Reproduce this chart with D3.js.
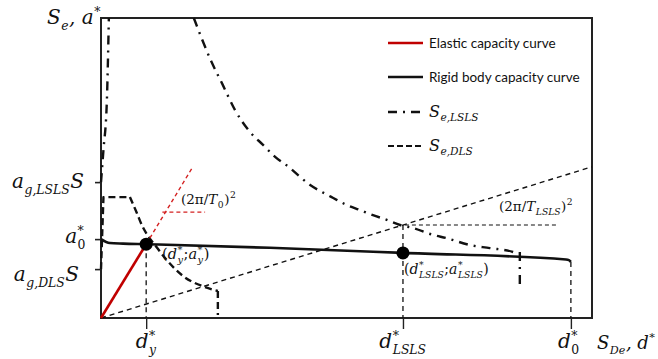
<!DOCTYPE html>
<html>
<head>
<meta charset="utf-8">
<script src="https://cdn.jsdelivr.net/npm/d3@7"></script>
<style>
  body { margin: 0; background: #fff; }
  svg { display: block; }
</style>
</head>
<body>
<div id="chart"></div>
<script>
const width = 658,
  height = 359;

// key displacements / accelerations (arbitrary units, 0..100)
const dTicks = [9.2, 61.5, 95.7];
const aTicks = [45.3, 26.3, 16.3];

// rigid body capacity curve
const rigidD = [0, 1.8, 4.5, 9.0, 34.4, 61.5, 94.7, 95.3, 95.7];
const rigidA = [26.3, 25.0, 24.8, 24.6, 23.4, 21.7, 19.5, 19.3, 18.7];

// elastic capacity curve + its extension
const elasticD = [0, 9.2];
const elasticA = [0, 24.6];
const elasticExtD = [9.2, 18.7];
const elasticExtA = [24.6, 50.4];
const t0MarkD = [12.5, 21.2];
const t0MarkA = [35.3, 35.3];

// S_e,DLS spectrum
const dlsD = [0, 0.5, 5.9, 7.3, 8.4, 9.6, 11.0, 13.4, 16.7, 21.2, 23.8, 23.8];
const dlsA = [16.3, 40.3, 40.3, 35.0, 30.7, 27.3, 24.3, 19.3, 14.0, 10.3, 9.0, 1.0];

// S_e,LSLS spectrum (rising branch + descending branch)
const lslsRiseD = [0, 0.5, 1.2, 1.6];
const lslsRiseA = [45.3, 56.0, 72.7, 100];
const lslsD = [18.9, 22.5, 24.8, 27.3, 30.3, 33.0, 35.4, 38.5, 40.5, 42.6, 44.9, 47.3, 50.0,
  52.7, 55.4, 58.2, 60.9, 63.5, 67.6, 70.4, 75.2, 79.2, 83.9, 84.9];
const lslsA = [100, 85.4, 77.7, 69.3, 62.1, 57.7, 53.8, 50.0, 47.1, 44.3, 42.1, 40.0, 37.7,
  36.0, 34.3, 32.7, 31.0, 30.0, 27.7, 26.6, 24.3, 23.3, 22.0, 21.0];
const lslsEndD = [85.3, 85.3];
const lslsEndA = [22.0, 9.3];

// secant through origin with period T_LSLS
const secantD = [0, 100];
const secantA = [0, 50.4];
const tlMarkD = [61.9, 93.1];
const tlMarkA = [31.0, 31.0];

const legendNames = ["Elastic capacity curve", "Rigid body capacity curve", "S_e,LSLS", "S_e,DLS"];

const x = d3.scaleLinear().domain([0, 100]).range([101, 592]);
const y = d3.scaleLinear().domain([0, 100]).range([318, 18]);

const svg = d3.select("#chart")
  .append("svg")
  .attr("width", width)
  .attr("height", height)
  .attr("viewBox", [0, 0, width, height]);

const zip = (a, b) => a.map((v, i) => [v, b[i]]);

// frame
svg.append("rect")
  .attr("x", x(0)).attr("y", y(100))
  .attr("width", x(100) - x(0)).attr("height", y(0) - y(100))
  .attr("fill", "none").attr("stroke", "#222").attr("stroke-width", 2);

// ticks
svg.append("g")
  .attr("transform", `translate(${x(0)},0)`)
  .call(d3.axisLeft(y).tickValues(aTicks).tickSize(6).tickFormat(""))
  .call(g => g.select(".domain").remove())
  .call(g => g.selectAll("line").attr("stroke", "#222").attr("stroke-width", 1.6));

svg.append("g")
  .attr("transform", `translate(0,${y(0)})`)
  .call(d3.axisBottom(x).tickValues(dTicks).tickSize(11).tickFormat(""))
  .call(g => g.select(".domain").remove())
  .call(g => g.selectAll("line").attr("stroke", "#222").attr("stroke-width", 1.4));

function path(d, stroke, w, dash, curve) {
  const gen = d3.line().x(p => x(p[0])).y(p => y(p[1])).curve(curve || d3.curveLinear);
  svg.append("path")
    .attr("d", gen(d))
    .attr("fill", "none")
    .attr("stroke", stroke)
    .attr("stroke-width", w)
    .attr("stroke-dasharray", dash || null)
    .attr("stroke-linejoin", "round");
}

// thin guides
path(zip(secantD, secantA), "#111", 1.4, "5,4");
path(zip(tlMarkD, tlMarkA), "#111", 1.2, "4,3");
path([[dTicks[0], 24.6], [dTicks[0], 0]], "#111", 1.3, "5,4");
path([[dTicks[1], 31.0], [dTicks[1], 0]], "#111", 1.3, "5,4");
path([[dTicks[2], 18.7], [dTicks[2], 0]], "#111", 1.3, "5,4");

// spectra
path(zip(dlsD.slice(0, 3), dlsA.slice(0, 3)), "#111", 2.4, "7,4");
path(zip(dlsD.slice(2, 11), dlsA.slice(2, 11)), "#111", 2.4, "7,4", d3.curveMonotoneX);
path(zip(dlsD.slice(10), dlsA.slice(10)), "#111", 2.4, "7,4");
path(zip(lslsRiseD, lslsRiseA), "#111", 2.4, "9,6,2,6", d3.curveMonotoneX);
path(zip(lslsD, lslsA), "#111", 2.4, "9,6,2,6", d3.curveMonotoneX);
path(zip(lslsEndD, lslsEndA), "#111", 2.4, "9,6,2,6");

// elastic
path(zip(elasticExtD, elasticExtA), "#d42020", 1.4, "4,3");
path(zip(t0MarkD, t0MarkA), "#d42020", 1.4, "4,3");
path(zip(elasticD, elasticA), "#c00000", 2.6);

// rigid body
path(zip(rigidD, rigidA), "#111", 2.6, null, d3.curveMonotoneX);

svg.append("g")
  .selectAll("circle")
  .data([[dTicks[0], 24.6], [dTicks[1], 21.7]])
  .join("circle")
  .attr("cx", d => x(d[0]))
  .attr("cy", d => y(d[1]))
  .attr("r", 6.5)
  .attr("fill", "#000");

// math-like labels: parts are {b}, {sub}, {sup}, {sub, sup}, {u} (upright)
function mathLabel(x0, y0, parts, fs, anchor, ss) {
  const g = svg.append("g").attr("font-family", "DejaVu Serif").attr("fill", "#111");
  const small = fs * (ss || 0.62);
  let cx = 0;
  parts.forEach(p => {
    if (p.b !== undefined || p.u !== undefined) {
      const n = g.append("text").attr("x", cx).attr("y", 0)
        .attr("font-size", fs)
        .attr("font-style", p.u !== undefined ? "normal" : "italic")
        .text(p.b !== undefined ? p.b : p.u);
      cx += n.node().getComputedTextLength();
    } else {
      let w = 0;
      if (p.sup) {
        const n = g.append("text").attr("x", cx + 0.5).attr("y", -fs * 0.42)
          .attr("font-size", small).attr("font-style", p.sup === "2" ? "normal" : "italic").text(p.sup);
        w = Math.max(w, n.node().getComputedTextLength());
      }
      if (p.sub) {
        const n = g.append("text").attr("x", cx + 0.5).attr("y", fs * 0.28)
          .attr("font-size", small).attr("font-style", p.sub === "0" ? "normal" : "italic").text(p.sub);
        w = Math.max(w, n.node().getComputedTextLength());
      }
      cx += w + 1;
    }
  });
  const dx = anchor === "end" ? -cx : anchor === "middle" ? -cx / 2 : 0;
  g.attr("transform", `translate(${x0 + dx},${y0})`);
}

// axis titles
mathLabel(47, 24, [{b: "S"}, {sub: "e"}, {b: ", a"}, {sup: "*"}], 20, "start");
mathLabel(597, 349, [{b: "S"}, {sub: "De"}, {b: ", d"}, {sup: "*"}], 18, "start");

// y tick labels
mathLabel(84, 188, [{b: "a"}, {sub: "g,LSLS"}, {b: "S"}], 20, "end");
mathLabel(86, 243, [{b: "a"}, {sub: "0", sup: "*"}], 20, "end");
mathLabel(79, 281, [{b: "a"}, {sub: "g,DLS"}, {b: "S"}], 20, "end");

// x tick labels
mathLabel(x(dTicks[0]), 348, [{b: "d"}, {sub: "y", sup: "*"}], 20, "middle");
mathLabel(x(dTicks[1]), 348, [{b: "d"}, {sub: "LSLS", sup: "*"}], 20, "middle");
mathLabel(x(dTicks[2]) - 2, 348, [{b: "d"}, {sub: "0", sup: "*"}], 20, "middle");

// annotations
mathLabel(181, 204, [{u: "(2π/"}, {b: "T"}, {sub: "0"}, {u: ")"}, {sup: "2"}], 13.5, "start", 0.68);
mathLabel(499, 211, [{u: "(2π/"}, {b: "T"}, {sub: "LSLS"}, {u: ")"}, {sup: "2"}], 13.5, "start", 0.68);
mathLabel(162, 259, [{u: "("}, {b: "d"}, {sub: "y", sup: "*"}, {u: "; "}, {b: "a"}, {sub: "y", sup: "*"}, {u: ")"}], 14.5, "start", 0.68);
mathLabel(404, 274, [{u: "("}, {b: "d"}, {sub: "LSLS", sup: "*"}, {u: "; "}, {b: "a"}, {sub: "LSLS", sup: "*"}, {u: ")"}], 14, "start", 0.66);

// legend
const legendY = [43, 77, 112, 146];
const legendStyle = [
  {stroke: "#c00000", w: 2.6, dash: null},
  {stroke: "#111", w: 2.6, dash: null},
  {stroke: "#111", w: 2.6, dash: "9,6,2,6"},
  {stroke: "#111", w: 2.2, dash: "6,3"}
];
const legend = svg.append("g");
legend.selectAll("line")
  .data(legendStyle)
  .join("line")
  .attr("x1", 388).attr("x2", 423)
  .attr("y1", (d, i) => legendY[i]).attr("y2", (d, i) => legendY[i])
  .attr("stroke", d => d.stroke)
  .attr("stroke-width", d => d.w)
  .attr("stroke-dasharray", d => d.dash);

legendNames.slice(0, 2).forEach((name, i) => {
  legend.append("text")
    .attr("x", 429).attr("y", legendY[i] + 4.5)
    .attr("font-family", "Lato")
    .attr("font-size", 13.5)
    .attr("fill", "#111")
    .text(name);
});
mathLabel(429, legendY[2] + 5, [{b: "S"}, {sub: "e,LSLS"}], 16, "start", 0.66);
mathLabel(429, legendY[3] + 5, [{b: "S"}, {sub: "e,DLS"}], 16, "start", 0.66);
</script>
</body>
</html>
